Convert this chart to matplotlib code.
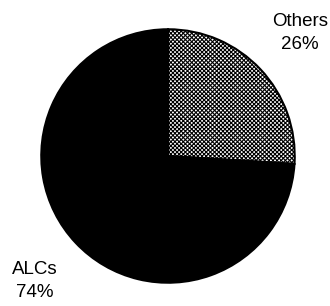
import matplotlib
matplotlib.use("Agg")
import matplotlib.pyplot as plt

labels = ["Others", "ALCs"]
shares = [26, 74]

plt.rcParams["font.family"] = ["Liberation Sans", "DejaVu Sans"]
plt.rcParams["hatch.linewidth"] = 0.8

fig = plt.figure(figsize=(3.3, 3.06), dpi=100)
ax = fig.add_axes([40 / 330, 22 / 306, 256 / 330, 256 / 306])

wedges, _ = ax.pie(shares, startangle=90, counterclock=False,
                   colors=["white", "black"],
                   wedgeprops=dict(edgecolor="black", linewidth=1.5))
wedges[0].set_hatch("xxxxxxxx")
ax.set_xlim(-1.01, 1.01)
ax.set_ylim(-1.01, 1.01)
ax.set_aspect("equal")
ax.axis("off")

# label positions in figure pixels
pos = [(300, 33), (35, 281)]
for lab, val, (x, y) in zip(labels, shares, pos):
    fig.text(x / 330, 1 - y / 306, f"{lab}\n{val}%", ha="center", va="center",
             fontsize=13.5, linespacing=1.5)

plt.savefig("out.png", dpi=100)
plt.close()
